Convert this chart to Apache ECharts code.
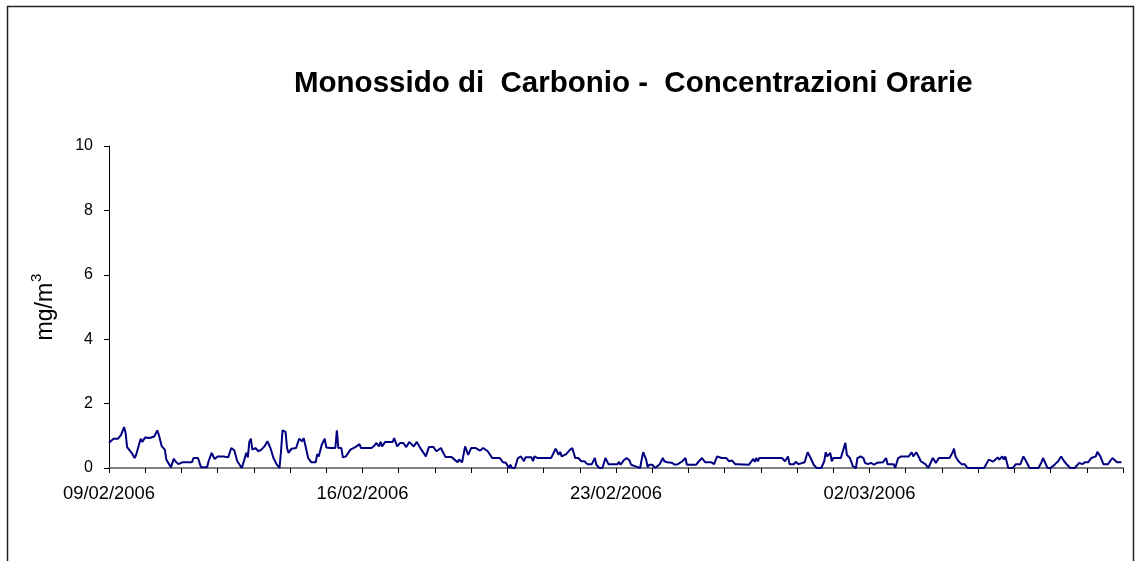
<!DOCTYPE html>
<html>
<head>
<meta charset="utf-8">
<title>Monossido di Carbonio</title>
<script src="https://cdn.jsdelivr.net/npm/echarts@6/dist/echarts.min.js"></script>
<style>
  html, body { margin: 0; padding: 0; background: #fff; }
  #chart_1 { width: 1135px; height: 561px; }
</style>
</head>
<body>
<div id="chart_1"></div>
<script>
// ore dall'inizio (09/02/2006 00:00) e concentrazione CO in mg/m3
var hours = [0,3,6,8,10,11,12,15,17,18,21,22,24,27,30,32,33,35,37,38,41,43,44,46,49,55,56,59,60,61,65,66,68,70,72,76,79,81,82,83,85,88,90,91,92,93,94,95,97,99,101,103,105,107,109,111,113,114,115,117,118,119,121,124,126,128,129,131,132,134,137,138,139,141,143,144,145,147,150,151,152,154,155,157,158,160,162,164,166,167,
  174,176,177,179,180,181,183,188,189,191,193,195,197,199,202,204,206,208,210,212,215,217,220,221,223,227,229,231,232,234,236,237,238,240,243,246,248,251,254,259,261,263,265,266,267,269,271,273,275,276,278,280,281,282,284,293,296,298,299,300,303,305,307,309,311,313,315,317,320,322,323,325,327,329,331,335,
  337,338,339,341,343,345,346,349,350,352,353,354,356,357,358,360,362,363,365,367,368,370,371,373,375,377,380,382,383,389,391,393,395,399,401,403,406,409,411,413,415,417,424,425,427,428,429,430,431,438,439,440,446,448,450,451,454,455,457,461,463,465,467,469,472,474,475,476,478,479,480,485,488,489,491,493,495,496,498,500,
  501,503,505,507,509,513,515,516,520,521,523,525,530,532,533,535,537,538,541,543,545,546,547,548,550,557,559,560,561,563,565,567,569,580,583,584,586,587,589,590,592,593,594,596,599,601,604,606,607,609,610,616,618,619,621,622,624,627,629,631,633,635,637,640,643,645,647,649,651,652,654,655,657,659,662,665,666,668,671];
var conc = [0.78,0.91,0.91,1.03,1.27,1.09,0.65,0.47,0.31,0.41,0.91,0.81,0.95,0.93,0.98,1.17,1.03,0.67,0.57,0.26,0.02,0.29,0.21,0.12,0.18,0.18,0.31,0.31,0.16,0.02,0.02,0.21,0.47,0.28,0.36,0.36,0.33,0.62,0.65,0.55,0.21,0.00,0.31,0.47,0.33,0.81,0.91,0.57,0.62,0.52,0.57,0.67,0.83,0.62,0.31,0.12,0.00,0.52,1.17,1.12,0.62,0.47,0.60,0.62,0.91,0.83,0.93,0.52,0.31,0.18,0.18,0.43,0.36,0.72,0.91,0.64,0.67,0.62,0.62,1.17,0.62,0.62,0.33,0.36,0.43,0.57,0.62,0.67,0.74,0.62,
  0.62,0.70,0.78,0.67,0.81,0.67,0.81,0.81,0.93,0.67,0.78,0.78,0.65,0.81,0.67,0.81,0.64,0.50,0.36,0.65,0.65,0.52,0.62,0.52,0.34,0.34,0.26,0.18,0.26,0.18,0.67,0.54,0.41,0.62,0.62,0.54,0.62,0.52,0.31,0.31,0.18,0.16,0.00,0.10,0.00,0.00,0.31,0.36,0.21,0.33,0.33,0.33,0.21,0.36,0.31,0.31,0.60,0.41,0.50,0.36,0.43,0.54,0.62,0.31,0.31,0.21,0.21,0.12,0.12,0.31,0.10,0.00,0.00,0.31,0.12,0.12,
  0.12,0.19,0.10,0.23,0.31,0.23,0.10,0.05,0.00,0.00,0.26,0.49,0.26,0.02,0.10,0.10,0.00,0.02,0.12,0.31,0.21,0.18,0.12,0.16,0.10,0.12,0.21,0.31,0.10,0.10,0.21,0.31,0.18,0.18,0.12,0.36,0.31,0.31,0.21,0.23,0.12,0.12,0.10,0.16,0.28,0.19,0.31,0.21,0.31,0.31,0.36,0.31,0.31,0.21,0.36,0.12,0.12,0.19,0.12,0.18,0.49,0.31,0.10,0.00,0.00,0.21,0.49,0.36,0.47,0.21,0.31,0.31,0.78,0.41,0.31,0.05,0.00,0.31,0.36,0.31,
  0.16,0.12,0.16,0.10,0.16,0.18,0.31,0.12,0.12,0.00,0.31,0.36,0.36,0.49,0.36,0.49,0.31,0.21,0.12,0.00,0.21,0.31,0.36,0.16,0.31,0.31,0.47,0.60,0.36,0.21,0.12,0.12,0.00,0.00,0.26,0.31,0.20,0.18,0.33,0.26,0.36,0.26,0.36,0.00,0.00,0.12,0.12,0.36,0.28,0.10,0.00,0.00,0.18,0.31,0.10,0.00,0.00,0.12,0.21,0.36,0.21,0.10,0.00,0.00,0.16,0.12,0.18,0.18,0.31,0.31,0.36,0.50,0.36,0.12,0.12,0.31,0.36,0.18,0.18];

// etichette asse x, una ogni 7 giorni (168 ore)
var dateLabels = ['09/02/2006', '16/02/2006', '23/02/2006', '02/03/2006'];
var yTicks = [0, 2, 4, 6, 8, 10];

var seriesData = [];
for (var i = 0; i < hours.length; i++) {
    seriesData.push([hours[i], conc[i]]);
}

var myChart = echarts.init(document.getElementById('chart_1'));

var option = {
    backgroundColor: '#ffffff',
    animation: false,
    textStyle: { fontFamily: 'Liberation Sans, Arial, sans-serif' },
    title: {
        text: 'Monossido di  Carbonio -  Concentrazioni Orarie',
        left: 289,
        top: 64,
        textStyle: { fontSize: 29.5, fontWeight: 'bold', color: '#000' }
    },
    graphic: [{
        // cornice del grafico
        type: 'rect',
        shape: { x: 7.5, y: 6.5, width: 1126, height: 600 },
        style: { fill: 'none', stroke: '#222', lineWidth: 1.5 },
        silent: true
    }],
    grid: { left: 109, right: 12, top: 146, bottom: 93 },
    xAxis: {
        type: 'value',
        min: 0,
        max: 672,
        interval: 24,
        axisLine: { show: true, onZero: false, lineStyle: { color: '#808080', width: 2 } },
        axisTick: { show: true, length: 5, lineStyle: { color: '#000', width: 1 } },
        splitLine: { show: false },
        axisLabel: {
            color: '#000',
            fontSize: 18.4,
            margin: 17,
            formatter: function (val) {
                if (val % 168 !== 0) return '';
                return dateLabels[val / 168] || '';
            }
        }
    },
    yAxis: {
        type: 'value',
        min: yTicks[0],
        max: yTicks[yTicks.length - 1],
        interval: yTicks[1] - yTicks[0],
        name: '{a|mg/m}{s|3}',
        nameLocation: 'middle',
        nameGap: 52,
        nameTextStyle: {
            rich: {
                a: { fontSize: 23, color: '#000', lineHeight: 28, verticalAlign: 'bottom' },
                s: { fontSize: 15, color: '#000', lineHeight: 28, verticalAlign: 'top', padding: [0, 0, 10, 1] }
            }
        },
        axisLine: { show: true, lineStyle: { color: '#000', width: 1 } },
        axisTick: { show: true, length: 5, lineStyle: { color: '#000' } },
        splitLine: { show: false },
        axisLabel: { color: '#000', fontSize: 16, margin: 16 }
    },
    series: [{
        name: 'CO',
        type: 'line',
        data: seriesData,
        showSymbol: false,
        symbol: 'none',
        lineStyle: { color: '#000080', width: 2 },
        itemStyle: { color: '#000080' }
    }]
};

myChart.setOption(option);
</script>
</body>
</html>
